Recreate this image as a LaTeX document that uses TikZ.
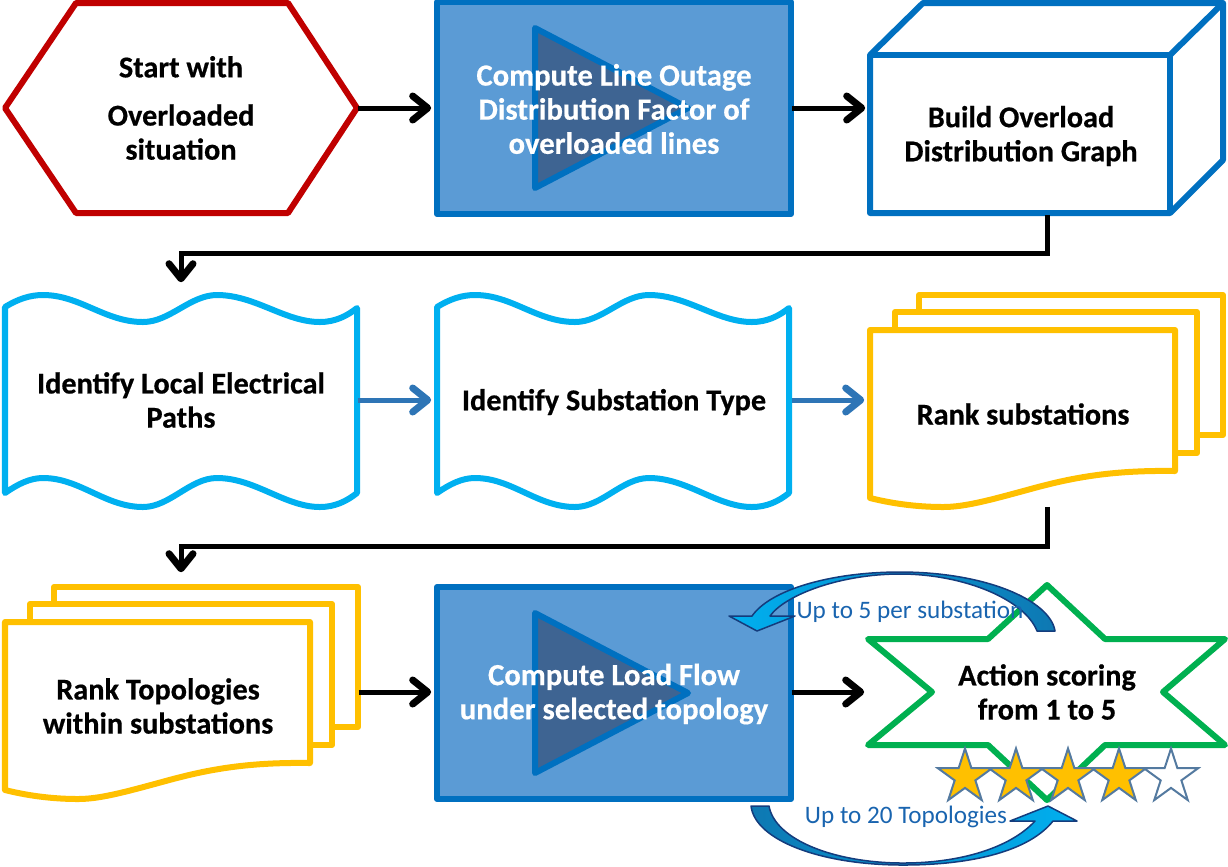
\documentclass[tikz,border=0pt]{standalone}
\usepackage{fontspec}
\setmainfont{Carlito}[BoldFeatures={FakeBold=0.5}]
\usetikzlibrary{arrows.meta,shapes.geometric}
\definecolor{redcol}{RGB}{192,0,0}
\definecolor{bluecol}{RGB}{0,112,192}
\definecolor{fillcol}{RGB}{91,155,213}
\definecolor{playcol}{RGB}{62,100,146}
\definecolor{cyancol}{RGB}{0,176,240}
\definecolor{flowcol}{RGB}{46,117,182}
\definecolor{yellowcol}{RGB}{255,192,0}
\definecolor{greencol}{RGB}{0,176,80}
\definecolor{starline}{RGB}{84,122,160}
\definecolor{curveline}{RGB}{20,60,125}
\definecolor{curvetail}{RGB}{14,120,178}
\definecolor{curvetext}{RGB}{25,100,175}
\tikzset{every picture/.style={x=.01cm,y=-.01cm}}
\tikzset{outline/.style={line width=.06cm,line join=round,fill=white}}
\tikzset{steptext/.style={font=\fontsize{8.6}{9.7}\selectfont\bfseries,align=center,inner sep=0,text=black}}
\tikzset{lighttext/.style={steptext,font=\fontsize{8.73}{9.7}\selectfont\bfseries,text=white}}
\tikzset{curvelabel/.style={font=\fontsize{7.15}{9}\selectfont,inner sep=0,text=curvetext}}
\tikzset{flow/.style={line width=.05cm,shorten >=.05cm,-{Straight Barb[length=.15cm,width=.24cm,round,line width=.07cm]}}}
\tikzset{blueflow/.style={flow,flowcol}}
\tikzset{scorestar/.style={star,star points=5,star point ratio=2.618,minimum size=.57cm,inner sep=0,draw=starline,line width=.02cm,fill=yellowcol}}
\tikzset{curve/.style={draw=curveline,line width=.015cm,line join=round}}
\newcommand{\playbox}[1]{
  \draw [outline,draw=bluecol,fill=fillcol,shift={(0,#1)}] (437,2) rectangle (791,214);
  \draw [outline,draw=bluecol,fill=playcol,shift={(0,#1)}] (535,28) -- (688,108) -- (535,188) -- cycle;
}
\newcommand{\wavedoc}[1]{
  \draw [outline,draw=cyancol,shift={(#1,0)}] (5,307) .. controls (18,299) and (30,295) .. (43,295)
    .. controls (80,295) and (105,322) .. (143,322) .. controls (170,322) and (190,295) .. (217,295)
    .. controls (255,295) and (285,322) .. (320,322) .. controls (335,322) and (347,316) .. (357,308)
    -- (357,493) .. controls (347,501) and (335,507) .. (320,507) .. controls (285,507) and (255,478) .. (217,478)
    .. controls (190,478) and (170,507) .. (143,507) .. controls (105,507) and (80,478) .. (43,478)
    .. controls (30,478) and (18,484) .. (5,493) -- cycle;
}
\newcommand{\stackdoc}[2]{
  \draw [outline,draw=yellowcol,shift={(#1,#2)}] (919,295) rectangle (1223,435);
  \draw [outline,draw=yellowcol,shift={(#1,#2)}] (895,312) rectangle (1197,453);
  \draw [outline,draw=yellowcol,shift={(#1,#2)}] (870,330) -- (1175,330) -- (1175,471)
    .. controls (1110,470) and (1070,478) .. (1027,490) .. controls (990,500) and (965,507) .. (943,507)
    .. controls (915,507) and (890,503) .. (870,498) -- cycle;
}

\begin{document}
\begin{tikzpicture}
\useasboundingbox (0,0) rectangle (1228,866);
% first row
\draw [outline,draw=redcol] (5,108) -- (76,3) -- (288,3) -- (357,108) -- (288,213) -- (76,213) -- cycle;
\playbox{0}
\draw [outline,draw=bluecol] (923,3) -- (1223,3) -- (1223,160) -- (1170,213) -- (870,213) -- (870,55) -- cycle;
\draw [outline,draw=bluecol,fill=none] (870,55) -- (1170,55) -- (1170,213);
\draw [outline,draw=bluecol,fill=none] (1170,55) -- (1223,3);

% second row
\wavedoc{0}
\wavedoc{432}
\stackdoc{0}{0}

% third row
\stackdoc{-865}{292}
\playbox{585}
\draw [outline,draw=greencol] (868,639) -- (988,639) -- (1047,585) -- (1105,639) -- (1225,639) -- (1163,692)
  -- (1225,745) -- (1105,745) -- (1047,800) -- (988,745) -- (868,745) -- (932,692) -- cycle;

\node [scorestar] (star1) at (965,777) {};
\node [scorestar] (star2) at (1016,777) {};
\node [scorestar] (star3) at (1068,777) {};
\node [scorestar] (star4) at (1119,777) {};
\node [scorestar,fill=white] (star5) at (1171,777) {};

\draw [curve,left color=cyancol,right color=curvetail] (1055,631) .. controls (1050,600) and (985,572) .. (900,572)
  .. controls (830,572) and (770,590) .. (752,616) -- (729,616) -- (757,631) -- (795,616) -- (770,616)
  .. controls (785,595) and (840,574) .. (900,574) .. controls (965,574) and (1025,600) .. (1037,631) -- cycle;
\draw [curve,left color=curvetail,right color=cyancol] (751,806) .. controls (755,840) and (820,865) .. (903,865)
  .. controls (975,865) and (1030,850) .. (1053,821) -- (1077,821) -- (1048,806) -- (1010,821) -- (1035,821)
  .. controls (1010,848) and (960,863) .. (903,863) .. controls (835,863) and (775,840) .. (769,806) -- cycle;

\node [steptext,minimum width=3.52cm,minimum height=2.1cm] (start) at (181,108) {Start with\\[4pt]Overloaded\\situation};
\node [lighttext,minimum width=3.54cm,minimum height=2.12cm] (lodf) at (614,109) {Compute Line Outage\\Distribution Factor of\\overloaded lines};
\node [steptext,minimum width=3cm,minimum height=1.6cm] (graph) at (1021,136) {Build Overload\\Distribution Graph};
\node [steptext,minimum width=3.52cm,minimum height=2.24cm] (paths) at (181,400) {Identify Local Electrical\\Paths};
\node [steptext,minimum width=3.54cm,minimum height=2cm] (subtype) at (614,402) {Identify Substation Type};
\node [steptext,minimum width=3.06cm,minimum height=1.84cm] (rank) at (1023,414) {Rank substations};
\node [steptext,minimum width=4cm,minimum height=2.56cm] (topo) at (158,706) {Rank Topologies\\within substations};
\node [lighttext,minimum width=3.54cm,minimum height=2.12cm] (loadflow) at (614,694) {Compute Load Flow\\under selected topology};
\node [steptext,minimum width=3.54cm,minimum height=1.6cm] (score) at (1047,692) {Action scoring\\from 1 to 5};

\node [curvelabel] (perstation) at (910,612) {Up to 5 per substation};
\node [curvelabel] (pertopo) at (906,817) {Up to 20 Topologies};

\draw [flow] (start.east) -- (start.east -| lodf.west);
\draw [flow] (start.east -| lodf.east) -- (start.east -| graph.west);
\draw [flow] ([xshift=.26cm,yshift=.02cm]graph.south) -- ++(0,39) -| (paths.north);
\draw [blueflow] (paths.east) -- (paths.east -| subtype.west);
\draw [blueflow] (paths.east -| subtype.east) -- (paths.east -| rank.west);
\draw [flow] ([xshift=.24cm]rank.south) -- ++(0,40) -| ([xshift=.23cm]topo.north);
\draw [flow] (score.west -| topo.east) -- (score.west -| loadflow.west);
\draw [flow] (score.west -| loadflow.east) -- (score.west);
\end{tikzpicture}
\end{document}
